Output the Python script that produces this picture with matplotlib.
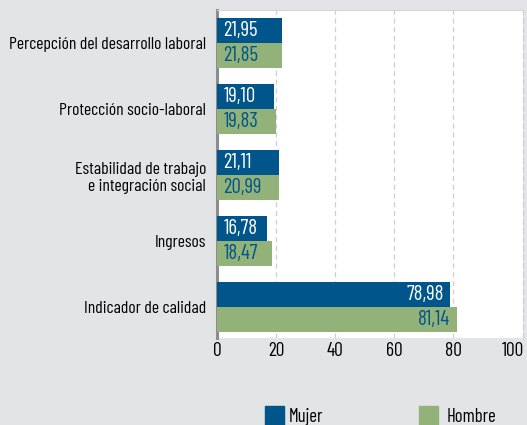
import matplotlib
matplotlib.use('Agg')
import matplotlib.pyplot as plt
import matplotlib.patches as mpatches
import numpy as np

# Data
categories = ['Percepción del desarrollo laboral', 'Protección socio-laboral',
              'Estabilidad de trabajo\ne integración social', 'Ingresos',
              'Indicador de calidad']
mujer = [21.95, 19.10, 21.11, 16.78, 78.98]
hombre = [21.85, 19.83, 20.99, 18.47, 81.14]
series_names = ['Mujer', 'Hombre']
x_ticks = [0, 20, 40, 60, 80, 100]

BLUE = '#00558a'
GREEN = '#93b279'
BG = '#e3e4e6'

plt.rcParams['font.family'] = ['Barlow Condensed', 'DejaVu Sans']

fig = plt.figure(figsize=(5.27, 4.25), dpi=100, facecolor=BG)
ax = fig.add_axes([0.412, 0.205, 0.580, 0.771])
ax.set_facecolor('white')

y = np.arange(len(categories))
h = 0.38
ax.barh(y - h / 2, mujer, height=h, color=BLUE, zorder=3)
ax.barh(y + h / 2, hombre, height=h, color=GREEN, zorder=3)

def fmt(v):
    return f"{v:.2f}".replace('.', ',')

def put_label(v, yy, col):
    # short bars: text starts near the axis, long bars: text ends near bar tip
    if v < 30:
        ax.text(2.2, yy, fmt(v), ha='left', va='center', color=col,
                fontsize=15, zorder=4)
    else:
        ax.text(v - 2.2, yy, fmt(v), ha='right', va='center', color=col,
                fontsize=15, zorder=4)

for yi, m, w in zip(y, mujer, hombre):
    put_label(m, yi - h / 2, 'white')
    put_label(w, yi + h / 2, BLUE)

ax.set_xlim(0, 103.5)
ax.set_ylim(len(categories) - 0.53, -0.5)
ax.set_xticks(x_ticks)
ax.set_xticklabels([str(t) for t in x_ticks], fontsize=14)
ax.set_yticks(y)
ax.set_yticklabels(categories, fontsize=12.7, linespacing=1.2)
ax.tick_params(axis='both', length=0)
ax.tick_params(axis='y', pad=8)
ax.tick_params(axis='x', pad=3)

for t in [20, 40, 60, 80]:
    ax.axvline(t, color='#cfcfcf', linestyle=(0, (4, 3)), linewidth=0.9, zorder=1)

ax.spines['left'].set_color('#8c8c8c')
ax.spines['left'].set_linewidth(2.2)
ax.spines['bottom'].set_visible(False)
ax.spines['top'].set_color('#d6d6d6')
ax.spines['top'].set_linewidth(0.8)
ax.spines['right'].set_color('#cfcfcf')
ax.spines['right'].set_linestyle((0, (4, 3)))
ax.spines['right'].set_linewidth(0.9)

# Legend drawn at the bottom of the figure
W, H = 527.0, 425.0
leg_items = [(265, 289, BLUE, series_names[0]), (419, 447, GREEN, series_names[1])]
for x0, xt, col, name in leg_items:
    fig.patches.append(mpatches.Rectangle((x0 / W, 0.0), 19 / W, 19 / H,
                                          transform=fig.transFigure,
                                          color=col, figure=fig))
    fig.text(xt / W, 8 / H, name, ha='left', va='center', fontsize=13.5)

fig.savefig('out.png', dpi=100, facecolor=BG)
